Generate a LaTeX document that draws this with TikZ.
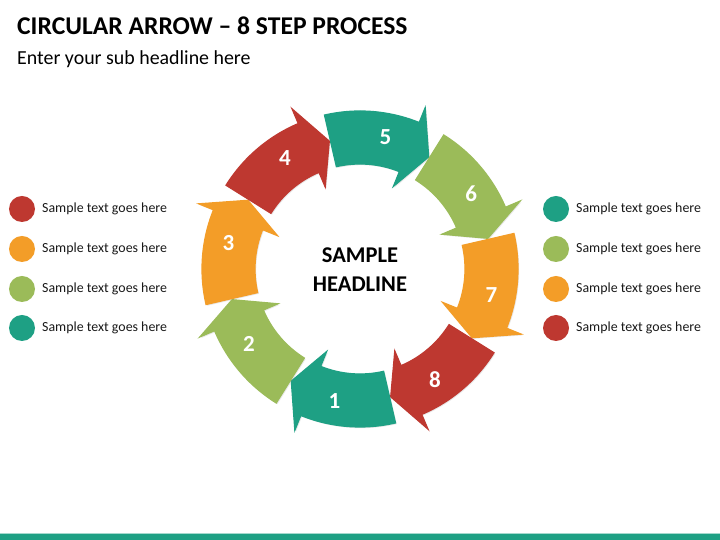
\documentclass[tikz,border=0pt]{standalone}
\usepackage{fontspec}
\setmainfont{Carlito}
\usetikzlibrary{shadows}
\definecolor{cteal}{RGB}{30,160,132}
\definecolor{cgreen}{RGB}{155,187,89}
\definecolor{corange}{RGB}{243,157,40}
\definecolor{cred}{RGB}{190,56,48}
\tikzset{
  seg/.style={draw=white, line width=1.2bp, line join=miter,
    drop shadow={opacity=0.18, shadow xshift=1.2bp, shadow yshift=-1.2bp}},
  num/.style={text=white, font=\bfseries\fontsize{23bp}{26bp}\selectfont, inner sep=0pt},
  dot/.style={circle, minimum size=26bp, inner sep=0pt},
  legtext/.style={anchor=west, inner sep=0pt, font=\fontsize{13.9bp}{16bp}\selectfont, text=black!90},
  headtext/.style={inner sep=0pt, font=\bfseries\fontsize{22.5bp}{26bp}\selectfont, anchor=base}
}
\newcommand{\arrowseg}[3]{% tail angle, colour, label
  \fill[seg, #2] (#1:158) arc[start angle=#1, end angle=#1-35, radius=158]
     -- (#1-35:174) -- (#1-44.5:131.5) -- (#1-35:89) -- (#1-35:105)
     arc[start angle=#1-35, end angle=#1, radius=105] -- cycle;
  \node[num] (n#3) at (#1-24:134) {#3};
}
\begin{document}
\begin{tikzpicture}[x=1bp,y=1bp]
\useasboundingbox (0,0) rectangle (720,540);
\fill[white] (0,0) rectangle (720,540);
% bottom bar
\fill[cteal] (0,0) rectangle (720,6);
\fill[cteal!40] (0,6) rectangle (720,6.8);
% title
\node[anchor=base west, inner sep=0pt, font=\bfseries\fontsize{25.6bp}{30bp}\selectfont] (title) at (17,505) {CIRCULAR ARROW – 8 STEP PROCESS};
\node[anchor=base west, inner sep=0pt, font=\fontsize{19.9bp}{23bp}\selectfont] (sub) at (17,475) {Enter your sub headline here};
% ring
\begin{scope}[shift={(360,271)}]
  \arrowseg{103}{cteal}{5}
  \arrowseg{58}{cgreen}{6}
  \arrowseg{13}{corange}{7}
  \arrowseg{-32}{cred}{8}
  \arrowseg{-77}{cteal}{1}
  \arrowseg{-122}{cgreen}{2}
  \arrowseg{-167}{corange}{3}
  \arrowseg{148}{cred}{4}
  \node[headtext] (headA) at (0,6) {SAMPLE};
  \node[headtext] (headB) at (0,-23) {HEADLINE};
\end{scope}
% left legend
\node[dot, fill=cred]    (l1) at (22,331) {};
\node[dot, fill=corange] (l2) at (22,291) {};
\node[dot, fill=cgreen]  (l3) at (22,251) {};
\node[dot, fill=cteal]   (l4) at (22,212) {};
\node[legtext] (lt1) at (42,331) {Sample text goes here};
\node[legtext] (lt2) at (42,291) {Sample text goes here};
\node[legtext] (lt3) at (42,251) {Sample text goes here};
\node[legtext] (lt4) at (42,212) {Sample text goes here};
% right legend
\node[dot, fill=cteal]   (r1) at (556,331) {};
\node[dot, fill=cgreen]  (r2) at (556,291) {};
\node[dot, fill=corange] (r3) at (556,251) {};
\node[dot, fill=cred]    (r4) at (556,212) {};
\node[legtext] (rt1) at (576,331) {Sample text goes here};
\node[legtext] (rt2) at (576,291) {Sample text goes here};
\node[legtext] (rt3) at (576,251) {Sample text goes here};
\node[legtext] (rt4) at (576,212) {Sample text goes here};
\end{tikzpicture}
\end{document}
